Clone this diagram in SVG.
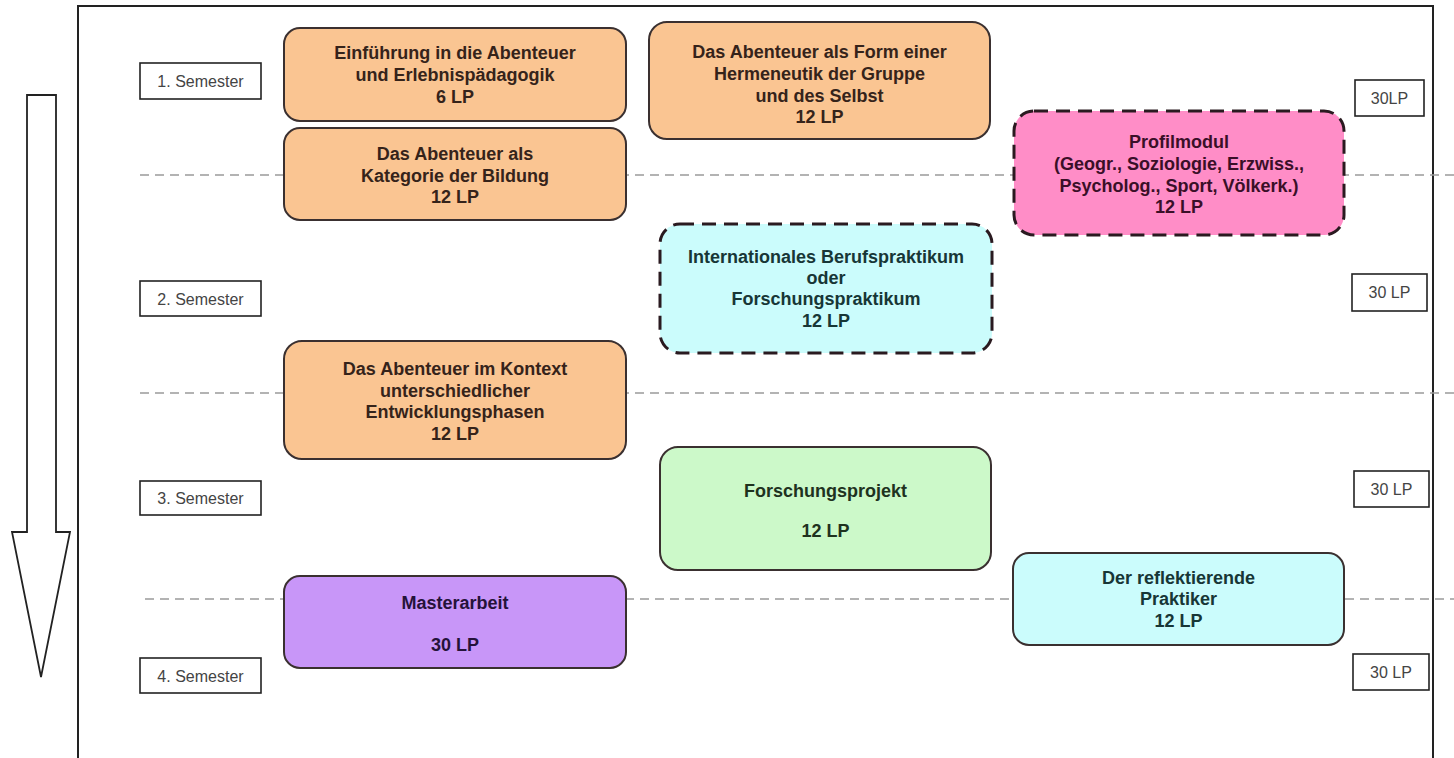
<svg xmlns="http://www.w3.org/2000/svg" width="1454" height="758" viewBox="0 0 1454 758">
<style>
.frame{fill:none;stroke:#222;stroke-width:2}
.sep{stroke:#9a9a9a;stroke-width:1.6;stroke-dasharray:9 6;fill:none}
.lbl{fill:#fff;stroke:#222;stroke-width:1.6}
.lt{font-family:"Liberation Sans",Arial,sans-serif;font-size:16px;fill:#444;text-anchor:middle}
.n{stroke:#3a3030;stroke-width:2}
.dash{stroke:#2a1a20;stroke-width:3;stroke-dasharray:14 8}
.t{font-family:"Liberation Sans",Arial,sans-serif;font-size:18px;font-weight:bold;text-anchor:middle}
.or{fill:#FAC592}
.pk{fill:#FF8DC7}
.cy{fill:#CBFCFC}
.gr{fill:#CCF9C9}
.pu{fill:#C896F8}
</style>
<rect width="1454" height="758" fill="#fff"/>
<g id="frame">
<path class="frame" d="M78,760 V6 H1433 V760"/>
<polygon points="27,95 56,95 56,532 70,532 41,677 12,532 27,532" fill="#fff" stroke="#222" stroke-width="1.8"/>
</g>
<g id="connectors">
<line class="sep" x1="140" y1="175" x2="1454" y2="175"/>
<line class="sep" x1="140" y1="393" x2="1454" y2="393"/>
<line class="sep" x1="145" y1="599" x2="1454" y2="599"/>
</g>
<g id="sem1"><rect class="lbl" x="140" y="63" width="121" height="36"/><text class="lt" x="200.5" y="87">1. Semester</text></g>
<g id="sem2"><rect class="lbl" x="140" y="281" width="121" height="35"/><text class="lt" x="200.5" y="304.5">2. Semester</text></g>
<g id="sem3"><rect class="lbl" x="140" y="481" width="121" height="34"/><text class="lt" x="200.5" y="504">3. Semester</text></g>
<g id="sem4"><rect class="lbl" x="140" y="658" width="121" height="35"/><text class="lt" x="200.5" y="681.5">4. Semester</text></g>
<g id="lp1"><rect class="lbl" x="1355" y="80" width="69" height="36"/><text class="lt" x="1389.5" y="104">30LP</text></g>
<g id="lp2"><rect class="lbl" x="1352" y="274" width="75" height="37"/><text class="lt" x="1389.5" y="298">30 LP</text></g>
<g id="lp3"><rect class="lbl" x="1354" y="471" width="75" height="36"/><text class="lt" x="1391.5" y="495">30 LP</text></g>
<g id="lp4"><rect class="lbl" x="1353" y="654" width="76" height="36"/><text class="lt" x="1391" y="678">30 LP</text></g>
<g id="einfuehrung">
<rect class="n or" x="284" y="28" width="342" height="93" rx="16"/>
<text class="t" fill="#35231a"><tspan x="455" y="59">Einführung in die Abenteuer</tspan><tspan x="455" y="81">und Erlebnispädagogik</tspan><tspan x="455" y="103">6 LP</tspan></text>
</g>
<g id="kategorie">
<rect class="n or" x="284" y="128" width="342" height="92" rx="16"/>
<text class="t" fill="#35231a"><tspan x="455" y="160">Das Abenteuer als</tspan><tspan x="455" y="181.5">Kategorie der Bildung</tspan><tspan x="455" y="203">12 LP</tspan></text>
</g>
<g id="hermeneutik">
<rect class="n or" x="649" y="22" width="341" height="117" rx="18"/>
<text class="t" fill="#35231a"><tspan x="819.5" y="58">Das Abenteuer als Form einer</tspan><tspan x="819.5" y="80">Hermeneutik der Gruppe</tspan><tspan x="819.5" y="101.5">und des Selbst</tspan><tspan x="819.5" y="123">12 LP</tspan></text>
</g>
<g id="profilmodul">
<rect class="dash pk" x="1014" y="111" width="330" height="124" rx="20"/>
<text class="t" fill="#3a0f28"><tspan x="1179" y="148">Profilmodul</tspan><tspan x="1179" y="170">(Geogr., Soziologie, Erzwiss.,</tspan><tspan x="1179" y="191.5">Psycholog., Sport, Völkerk.)</tspan><tspan x="1179" y="213">12 LP</tspan></text>
</g>
<g id="praktikum">
<rect class="dash cy" x="660" y="224" width="332" height="129" rx="20"/>
<text class="t" fill="#173636"><tspan x="826" y="263">Internationales Berufspraktikum</tspan><tspan x="826" y="283.5">oder</tspan><tspan x="826" y="305">Forschungspraktikum</tspan><tspan x="826" y="326.5">12 LP</tspan></text>
</g>
<g id="kontext">
<rect class="n or" x="284" y="341" width="342" height="118" rx="18"/>
<text class="t" fill="#35231a"><tspan x="455" y="375">Das Abenteuer im Kontext</tspan><tspan x="455" y="396.5">unterschiedlicher</tspan><tspan x="455" y="418">Entwicklungsphasen</tspan><tspan x="455" y="439.5">12 LP</tspan></text>
</g>
<g id="forschungsprojekt">
<rect class="n gr" x="660" y="447" width="331" height="123" rx="18" stroke="#2e3a2e"/>
<text class="t" fill="#1e321e"><tspan x="825.5" y="496.5">Forschungsprojekt</tspan><tspan x="825.5" y="537">12 LP</tspan></text>
</g>
<g id="masterarbeit">
<rect class="n pu" x="284" y="576" width="342" height="92" rx="16" stroke="#2e2240"/>
<text class="t" fill="#25123a"><tspan x="455" y="608.5">Masterarbeit</tspan><tspan x="455" y="651">30 LP</tspan></text>
</g>
<g id="reflektierende">
<rect class="n cy" x="1013" y="553" width="331" height="92" rx="16" stroke="#203030"/>
<text class="t" fill="#173636"><tspan x="1178.5" y="583.5">Der reflektierende</tspan><tspan x="1178.5" y="605">Praktiker</tspan><tspan x="1178.5" y="627">12 LP</tspan></text>
</g>
</svg>
